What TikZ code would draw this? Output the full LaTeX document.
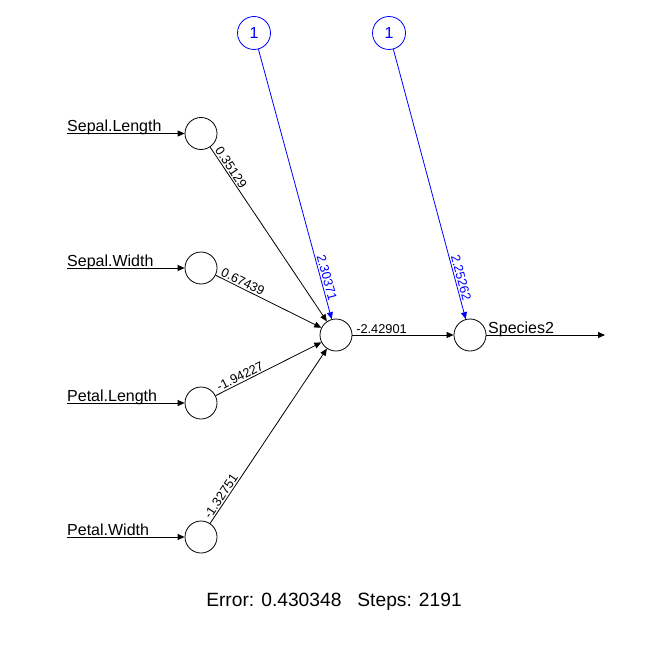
\documentclass[tikz,border=0pt]{standalone}
\usepackage{fontspec}
\setmainfont{Liberation Sans}
\usetikzlibrary{arrows.meta}
\begin{document}
\begin{tikzpicture}[x=1bp,y=-1bp,
  neuron/.style={circle,draw=black,line width=0.8bp,minimum size=32bp,inner sep=0pt},
  bias/.style={circle,draw=blue,text=blue,line width=0.8bp,minimum size=33bp,inner sep=0pt,font=\fontsize{16bp}{19bp}\selectfont},
  conn/.style={draw=black,line width=0.8bp,-{Triangle[length=7bp,width=6bp]}},
  bconn/.style={conn,draw=blue},
  wlabel/.style={sloped,above,inner sep=1.5bp,font=\fontsize{12.8bp}{15bp}\selectfont},
  inlabel/.style={anchor=base west,inner sep=0pt,font=\fontsize{16bp}{19bp}\selectfont}
]
\useasboundingbox (0,0) rectangle (672,672);

% neurons
\node[neuron] (i1) at (201,133.5) {};
\node[neuron] (i2) at (201,268) {};
\node[neuron] (i3) at (201,403) {};
\node[neuron] (i4) at (201,537) {};
\node[neuron] (h) at (336,335) {};
\node[neuron] (o) at (470,335) {};
\node[bias] (b1) at (254,33) {1};
\node[bias] (b2) at (389,33) {1};

% free ends
\coordinate (s1) at (67,133.5);
\coordinate (s2) at (67,268);
\coordinate (s3) at (67,403);
\coordinate (s4) at (67,537);
\coordinate (e) at (605,335);

% input lines and labels
\draw[conn] (s1) -- (i1);
\draw[conn] (s2) -- (i2);
\draw[conn] (s3) -- (i3);
\draw[conn] (s4) -- (i4);
\node[inlabel] (l1) at (67,131.5) {Sepal.Length};
\node[inlabel] (l2) at (67,266) {Sepal.Width};
\node[inlabel] (l3) at (67,401) {Petal.Length};
\node[inlabel] (l4) at (67,535) {Petal.Width};

% weighted connections
\draw[conn] (i1) -- (h);
\draw[conn] (i2) -- (h);
\draw[conn] (i3) -- (h);
\draw[conn] (i4) -- (h);
\draw[conn] (h) -- (o);
\draw[bconn] (b1) -- (h);
\draw[bconn] (b2) -- (o);
\draw[conn] (o) -- (e);
\node[inlabel] (lo) at (488,333) {Species2};

% weight labels
\path (i1.center) -- (h.center) node[wlabel,pos=0.185] (w1) {0.35129};
\path (i2.center) -- (h.center) node[wlabel,pos=0.29] (w2) {0.67439};
\path (i3.center) -- (h.center) node[wlabel,pos=0.31] (w3) {-1.94227};
\path (i4.center) -- (h.center) node[wlabel,pos=0.185] (w4) {-1.32751};
\path (h.center) -- (o.center) node[wlabel,pos=0.34] (w5) {-2.42901};
\path (b1.center) -- (h.center) node[wlabel,text=blue,pos=0.816] (w6) {2.30371};
\path (b2.center) -- (o.center) node[wlabel,text=blue,pos=0.816] (w7) {2.25262};

% caption
\node[anchor=base,inner sep=0pt,font=\fontsize{19.2bp}{23bp}\selectfont] (err) at (334,606) {Error: 0.430348\ \ \ Steps: 2191};
\end{tikzpicture}
\end{document}
